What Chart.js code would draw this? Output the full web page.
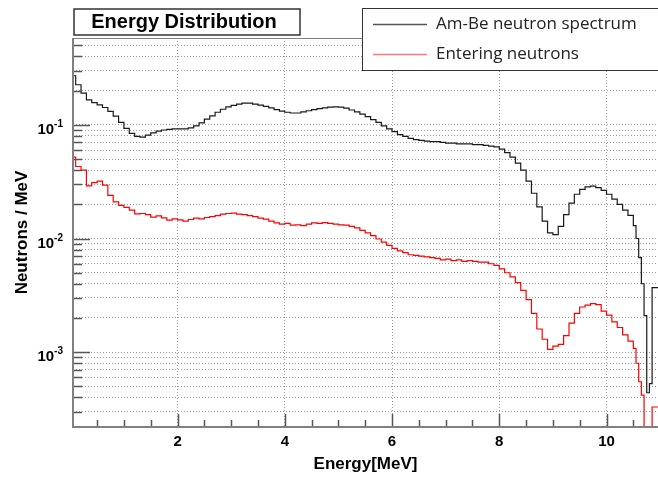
<!DOCTYPE html>
<html>
<head>
<meta charset="utf-8">
<script src="https://cdn.jsdelivr.net/npm/chart.js@4.4.1/dist/chart.umd.min.js"></script>
<style>
    html, body { margin: 0; padding: 0; background: #fff; }
</style>
</head>
<body>
<canvas id="myChart" width="658" height="477"></canvas>
<script>
// bin low edges in MeV (0.1 wide, then 0.05 wide near the end), last entry closes the last bin
const binEdges = [
    0.0, 0.1, 0.2, 0.3, 0.4, 0.5, 0.6, 0.7, 0.8, 0.9,
    1.0, 1.1, 1.2, 1.3, 1.4, 1.5, 1.6, 1.7, 1.8, 1.9,
    2.0, 2.1, 2.2, 2.3, 2.4, 2.5, 2.6, 2.7, 2.8, 2.9,
    3.0, 3.1, 3.2, 3.3, 3.4, 3.5, 3.6, 3.7, 3.8, 3.9,
    4.0, 4.1, 4.2, 4.3, 4.4, 4.5, 4.6, 4.7, 4.8, 4.9,
    5.0, 5.1, 5.2, 5.3, 5.4, 5.5, 5.6, 5.7, 5.8, 5.9,
    6.0, 6.1, 6.2, 6.3, 6.4, 6.5, 6.6, 6.7, 6.8, 6.9,
    7.0, 7.1, 7.2, 7.3, 7.4, 7.5, 7.6, 7.7, 7.8, 7.9,
    8.0, 8.1, 8.2, 8.3, 8.4, 8.5, 8.6, 8.7, 8.8, 8.9,
    9.0, 9.1, 9.2, 9.3, 9.4, 9.5, 9.6, 9.7, 9.8, 9.9,
    10.0, 10.1, 10.2, 10.3, 10.4,
    10.5, 10.55, 10.6, 10.65, 10.7, 10.75, 10.8, 10.85, 10.9, 10.95,
    11.0
];

// Am-Be neutron spectrum (neutrons / MeV)
const amBe = [
    0.31, 0.27, 0.225, 0.19, 0.166, 0.157, 0.150, 0.142, 0.131, 0.119,
    0.105, 0.093, 0.084, 0.079, 0.078, 0.081, 0.085, 0.088, 0.090, 0.091,
    0.092, 0.092, 0.092, 0.094, 0.098, 0.104, 0.112, 0.120, 0.129, 0.137,
    0.144, 0.148, 0.152, 0.155, 0.155, 0.152, 0.149, 0.145, 0.141, 0.136,
    0.132, 0.129, 0.127, 0.127, 0.130, 0.133, 0.136, 0.139, 0.141, 0.143,
    0.144, 0.143, 0.140, 0.135, 0.130, 0.124, 0.118, 0.111, 0.105, 0.098,
    0.092, 0.087, 0.082, 0.079, 0.076, 0.074, 0.073, 0.072, 0.071, 0.071,
    0.070, 0.069, 0.069, 0.068, 0.068, 0.068, 0.067, 0.067, 0.066, 0.065,
    0.064, 0.061, 0.057, 0.052, 0.046, 0.040, 0.032, 0.025, 0.019, 0.0142,
    0.0112, 0.0108, 0.0128, 0.0162, 0.0205, 0.0245, 0.0270, 0.0285, 0.0289, 0.0280,
    0.0265, 0.0245, 0.0222, 0.0200, 0.0178,
    0.0160, 0.0130, 0.0100, 0.0068, 0.0040, 0.0021, 0.00044, 0.00053, 0.0037, 0.0037
];

// entering neutrons (neutrons / MeV)
const entering = [
    0.073, 0.052, 0.043, 0.040, 0.029, 0.031, 0.032, 0.0295, 0.024, 0.021,
    0.0196, 0.0188, 0.0178, 0.0165, 0.0166, 0.0162, 0.0154, 0.0158, 0.0152, 0.0145,
    0.0149, 0.0146, 0.0142, 0.0147, 0.0151, 0.0149, 0.0153, 0.0156, 0.0159, 0.0164,
    0.0166, 0.0167, 0.0164, 0.0162, 0.0159, 0.0156, 0.0151, 0.0148, 0.0142, 0.0137,
    0.0134, 0.0136, 0.0131, 0.0132, 0.0130, 0.0134, 0.0137, 0.0136, 0.0138, 0.0136,
    0.0134, 0.0132, 0.0131, 0.0128, 0.0124, 0.0118, 0.0112, 0.0106, 0.0099, 0.0093,
    0.0087, 0.0082, 0.0078, 0.0075, 0.0072, 0.0071, 0.0070, 0.0069, 0.0068, 0.0067,
    0.0065, 0.0066, 0.0064, 0.0065, 0.0063, 0.0064, 0.0063, 0.0062, 0.0062, 0.0060,
    0.0058, 0.0054, 0.0050, 0.0046, 0.0041, 0.0035, 0.0029, 0.0022, 0.0016, 0.0013,
    0.00106, 0.00113, 0.00117, 0.00140, 0.00180, 0.00220, 0.00250, 0.00260, 0.00268, 0.00262,
    0.00230, 0.00212, 0.00185, 0.00165, 0.00142,
    0.00125, 0.00108, 0.00080, 0.00055, 0.00042, 0.0001, 0.0001, 0.0001, 0.00033, 0.00033
];

const xTicks = [0.5, 1, 1.5, 2, 2.5, 3, 3.5, 4, 4.5, 5, 5.5, 6, 6.5, 7, 7.5, 8, 8.5, 9, 9.5, 10, 10.5];
const yTicks = [
    0.0003, 0.0004, 0.0005, 0.0006, 0.0007, 0.0008, 0.0009,
    0.001, 0.002, 0.003, 0.004, 0.005, 0.006, 0.007, 0.008, 0.009,
    0.01, 0.02, 0.03, 0.04, 0.05, 0.06, 0.07, 0.08, 0.09,
    0.1, 0.2, 0.3, 0.4, 0.5
];

const seriesNames = ['Am-Be neutron spectrum', 'Entering neutrons'];
const fontFamily = '"Liberation Sans", Arial, sans-serif';

function toPoints(values) {
    // one point per bin edge, last edge repeats the last bin value
    return binEdges.map((e, i) => ({x: e, y: values[Math.min(i, values.length - 1)]}));
}

function isDecade(v) {
    const l = Math.log10(v);
    return Math.abs(l - Math.round(l)) < 1e-6;
}

// ROOT style frame, inward ticks, 10^n labels, title box and legend box
const rootFrame = {
    id: 'rootFrame',
    afterDraw(chart) {
        const ctx = chart.ctx;
        const a = chart.chartArea;
        const xs = chart.scales.x;
        const ys = chart.scales.y;
        ctx.save();

        // ticks on the y axis
        ctx.strokeStyle = '#555';
        ctx.lineWidth = 1.5;
        ys.ticks.forEach(t => {
            const py = Math.round(ys.getPixelForValue(t.value)) + 0.5;
            const len = isDecade(t.value) ? 17 : 9;
            ctx.beginPath();
            ctx.moveTo(a.left, py);
            ctx.lineTo(a.left + len, py);
            ctx.stroke();
        });
        // ticks on the x axis
        xs.ticks.forEach(t => {
            const px = Math.round(xs.getPixelForValue(t.value)) + 0.5;
            const len = t.value % 2 === 0 ? 13 : 7;
            ctx.beginPath();
            ctx.moveTo(px, a.bottom);
            ctx.lineTo(px, a.bottom - len);
            ctx.stroke();
        });

        // 10^n labels with a raised exponent
        ctx.fillStyle = '#000';
        ctx.textAlign = 'right';
        ctx.textBaseline = 'alphabetic';
        ys.ticks.forEach(t => {
            if (!isDecade(t.value)) return;
            const py = ys.getPixelForValue(t.value);
            const expo = String(Math.round(Math.log10(t.value)));
            ctx.font = 'bold 10px ' + fontFamily;
            const ew = ctx.measureText(expo).width;
            ctx.fillText(expo, a.left - 10, py + 2);
            ctx.font = 'bold 15px ' + fontFamily;
            ctx.fillText('10', a.left - 10 - ew, py + 9);
        });

        // frame
        ctx.strokeStyle = '#808080';
        ctx.lineWidth = 2;
        ctx.beginPath();
        ctx.moveTo(a.left, a.top);
        ctx.lineTo(a.left, a.bottom);
        ctx.lineTo(a.right, a.bottom);
        ctx.stroke();
        ctx.lineWidth = 1;
        ctx.beginPath();
        ctx.moveTo(a.left, a.top + 0.5);
        ctx.lineTo(a.right, a.top + 0.5);
        ctx.stroke();

        // title box
        ctx.fillStyle = '#fff';
        ctx.fillRect(74, 9, 226, 26);
        ctx.strokeStyle = '#333';
        ctx.lineWidth = 1.5;
        ctx.strokeRect(74, 9, 226, 26);
        ctx.fillStyle = '#000';
        ctx.font = 'bold 20px ' + fontFamily;
        ctx.textAlign = 'center';
        ctx.textBaseline = 'middle';
        ctx.fillText('Energy Distribution', 184, 22);

        // legend box
        ctx.fillStyle = '#fff';
        ctx.fillRect(362.5, 8.5, 300, 62);
        ctx.strokeStyle = '#333';
        ctx.lineWidth = 1;
        ctx.strokeRect(362.5, 8.5, 300, 62);
        const colors = ['#555', '#f77'];
        const rows = [24, 54];
        ctx.font = '17px "Open Sans", sans-serif';
        ctx.textAlign = 'left';
        for (let i = 0; i < 2; i++) {
            ctx.strokeStyle = colors[i];
            ctx.lineWidth = 1.5;
            ctx.beginPath();
            ctx.moveTo(373, rows[i] + 0.5);
            ctx.lineTo(427, rows[i] + 0.5);
            ctx.stroke();
            ctx.fillStyle = '#222';
            ctx.fillText(seriesNames[i], 436, rows[i]);
        }
        ctx.restore();
    }
};

const ctx = document.getElementById('myChart');
new Chart(ctx, {
    type: 'line',
    data: {
        datasets: [{
            label: seriesNames[0],
            data: toPoints(amBe),
            borderColor: '#1a1a1a',
            borderWidth: 1.2,
            stepped: 'after',
            pointRadius: 0,
            fill: false
        }, {
            label: seriesNames[1],
            data: toPoints(entering),
            borderColor: '#ff0000',
            borderWidth: 1.2,
            stepped: 'after',
            pointRadius: 0,
            fill: false
        }]
    },
    options: {
        responsive: false,
        animation: false,
        layout: {padding: {top: 38, right: 0, bottom: 0, left: 0}},
        plugins: {
            legend: {display: false},
            tooltip: {enabled: false}
        },
        scales: {
            x: {
                type: 'linear',
                min: 0.05,
                max: 10.96,
                afterBuildTicks: s => { s.ticks = xTicks.map(v => ({value: v})); },
                afterFit: s => { s.height = 50; },
                grid: {
                    color: c => (c.tick && c.tick.value % 2 === 0) ? '#9a9a9a' : 'rgba(0,0,0,0)',
                    drawTicks: false,
                    lineWidth: 1
                },
                border: {display: false, dash: [1, 2]},
                ticks: {
                    callback: v => (v % 2 === 0 ? String(v) : ''),
                    font: {family: fontFamily, weight: 'bold', size: 15},
                    color: '#000',
                    padding: 6,
                    autoSkip: false,
                    maxRotation: 0
                },
                title: {
                    display: true,
                    text: 'Energy[MeV]',
                    font: {family: fontFamily, weight: 'bold', size: 17},
                    color: '#000',
                    padding: {top: 0, bottom: 2}
                }
            },
            y: {
                type: 'logarithmic',
                min: 0.00022,
                max: 0.58,
                afterBuildTicks: s => { s.ticks = yTicks.map(v => ({value: v})); },
                afterFit: s => { s.width = 73; },
                grid: {color: '#9a9a9a', drawTicks: false, lineWidth: 1},
                border: {display: false, dash: [1, 2]},
                ticks: {
                    callback: () => '',
                    autoSkip: false
                },
                title: {
                    display: true,
                    text: 'Neutrons / MeV',
                    font: {family: fontFamily, weight: 'bold', size: 17},
                    color: '#000',
                    padding: {top: 12, bottom: 0}
                }
            }
        }
    },
    plugins: [rootFrame]
});
</script>
</body>
</html>
